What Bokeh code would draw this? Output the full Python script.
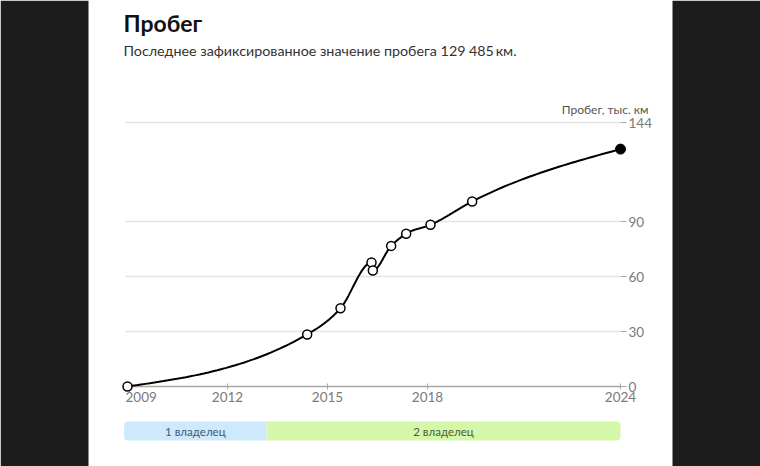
import numpy as np
from bokeh.plotting import figure
from bokeh.models import Range1d, LinearAxis, FixedTicker, Label, BoxAnnotation
from bokeh.embed import file_html
from bokeh.resources import INLINE
from bokeh.core.properties import value

# ---- data ----
years = [2009.0, 2014.39, 2015.39, 2016.32, 2016.36, 2016.91, 2017.36, 2018.09, 2019.34, 2023.79]
mileage = [0.0, 28.4, 42.7, 67.6, 63.3, 76.7, 83.3, 88.2, 100.9, 129.485]
y_ticks = [0, 30, 60, 90, 144]
x_tick_pos = [2009, 2012, 2015, 2018, 2023.79]
x_tick_labels = ["2009", "2012", "2015", "2018", "2024"]
owners = ["1 владелец", "2 владелец"]
owner_start = [2008.9, 2013.17]
owner_end = [2013.17, 2023.79]

title_text = "Пробег"
subtitle_text = "Последнее зафиксированное значение пробега 129\u202f485\u2009км."
y_label_text = "Пробег, тыс. км"

# ---- layout constants ----
W, H = 760, 466
PX_PER_YEAR = 100 / 3
PX_PER_UNIT = 55 / 30
X0_PX = 127   # pixel of first year
Y0_PX = 386   # pixel of value 0 (from top)

x_start = years[0] - X0_PX / PX_PER_YEAR
x_end = x_start + W / PX_PER_YEAR
y_start = -(H - Y0_PX) / PX_PER_UNIT
y_end = y_start + H / PX_PER_UNIT


def ypx(py):
    """convert a pixel row (from top) into data units"""
    return y_start + (H - py) / PX_PER_UNIT


def xpx(px):
    return x_start + px / PX_PER_YEAR


# ---- monotone-x curve (d3 curveMonotoneX) ----
def monotone(xs, ys, n=40):
    xs = np.asarray(xs, float)
    ys = np.asarray(ys, float)
    h = np.diff(xs)
    s = np.diff(ys) / h
    t = np.zeros(len(xs))
    for i in range(1, len(xs) - 1):
        h0, h1, s0, s1 = h[i - 1], h[i], s[i - 1], s[i]
        p = (s0 * h1 + s1 * h0) / (h0 + h1)
        t[i] = (np.sign(s0) + np.sign(s1)) * min(abs(s0), abs(s1), 0.5 * abs(p))
    t[0] = (3 * s[0] - t[1]) / 2
    t[-1] = (3 * s[-1] - t[-2]) / 2
    ox, oy = [], []
    for i in range(len(xs) - 1):
        u = np.linspace(0, 1, n, endpoint=(i == len(xs) - 2))
        h00 = 2 * u**3 - 3 * u**2 + 1
        h10 = u**3 - 2 * u**2 + u
        h01 = -2 * u**3 + 3 * u**2
        h11 = u**3 - u**2
        ox.extend(xs[i] + u * h[i])
        oy.extend(h00 * ys[i] + h10 * h[i] * t[i] + h01 * ys[i + 1] + h11 * h[i] * t[i + 1])
    return ox, oy


p = figure(width=W, height=H, x_range=Range1d(x_start, x_end), y_range=Range1d(y_start, y_end),
           output_backend="svg", toolbar_location=None, x_axis_type=None, y_axis_type=None,
           min_border=0, min_border_left=0, min_border_right=0, min_border_top=0, min_border_bottom=0,
           background_fill_color="white", border_fill_color="#1c1c1c", outline_line_color=None)

# dark side areas
for l, r in [(0, 88), (672, W)]:
    p.add_layout(BoxAnnotation(left=xpx(l), right=xpx(r), fill_color="#1c1c1c", fill_alpha=1,
                               line_color=None, level="underlay"))

# gridlines
gy = [t for t in y_ticks if t > 0]
p.segment(x0=[years[0] - 0.06] * len(gy), x1=[years[-1]] * len(gy), y0=gy, y1=gy,
          line_color="#e4e4e4", line_width=1.5, level="underlay")

# x axis
overrides = {pos: lab for pos, lab in zip(x_tick_pos[1:], x_tick_labels[1:])}
xaxis = LinearAxis(fixed_location=0, ticker=FixedTicker(ticks=x_tick_pos[1:]),
                   major_label_overrides=overrides, bounds=(years[0], years[-1]),
                   axis_line_color="#a8a8a8", axis_line_width=1.5,
                   major_tick_line_color="#a8a8a8", major_tick_in=3, major_tick_out=3,
                   minor_tick_line_color=None, major_label_text_color="#7a7a7a",
                   major_label_text_font="Lato", major_label_text_font_size="13.5px",
                   major_label_standoff=2, level="underlay")
p.add_layout(xaxis, "below")
p.add_layout(Label(x=x_tick_pos[0], y=0, x_offset=-2, y_offset=-5, text=x_tick_labels[0],
                   text_align="left", text_baseline="top", text_color="#7a7a7a",
                   text_font="Lato", text_font_size="13.5px"))

# y axis
yaxis = LinearAxis(fixed_location=years[-1], ticker=FixedTicker(ticks=y_ticks),
                   axis_line_color=None, major_tick_line_color="#a8a8a8",
                   major_tick_in=0, major_tick_out=6, minor_tick_line_color=None,
                   major_label_text_color="#7a7a7a", major_label_text_font="Lato",
                   major_label_text_font_size="13.5px", major_label_standoff=2)
p.add_layout(yaxis, "right")
p.add_layout(Label(x=years[-1], y=y_ticks[-1], x_offset=28, y_offset=13, text=y_label_text,
                   text_align="right", text_baseline="alphabetic", text_color="#555555",
                   text_font="Lato", text_font_size="12px"))

# curve and points
cx, cy = monotone(years, mileage)
p.line(cx, cy, line_color="black", line_width=2)
p.scatter(years[:-1], mileage[:-1], size=9, fill_color="white", line_color="black", line_width=1.5)
p.scatter(years[-1:], mileage[-1:], size=10, fill_color="black", line_color="black")

# ownership bar
bar_top, bar_bot = ypx(421), ypx(440)
colors = ["#cde9fb", "#d5f7a9"]
radii = [(4, 0, 0, 4), (0, 4, 4, 0)]
for s, e, c, r in zip(owner_start, owner_end, colors, radii):
    p.quad(left=[s], right=[e], top=[bar_top], bottom=[bar_bot], fill_color=c,
           line_color=None, border_radius=r)
p.text(x=[(s + e) / 2 for s, e in zip(owner_start, owner_end)], y=[ypx(431)] * 2, text=owners,
       text_align="center", text_baseline="middle", text_font=value("Lato"),
       text_font_size="11.5px", text_color=["#3e5a74", "#4b5c3a"])

# titles
p.add_layout(Label(x=xpx(123), y=ypx(22), text=title_text, text_font="Lato",
                   text_font_style="bold", text_font_size="23px", text_color="#111111",
                   text_baseline="alphabetic"))
p.add_layout(Label(x=xpx(123), y=ypx(50), text=subtitle_text, text_font="Lato",
                   text_font_size="14.3px", text_color="#333333", text_baseline="alphabetic"))

open("out.html", "w").write(file_html(p, INLINE))
